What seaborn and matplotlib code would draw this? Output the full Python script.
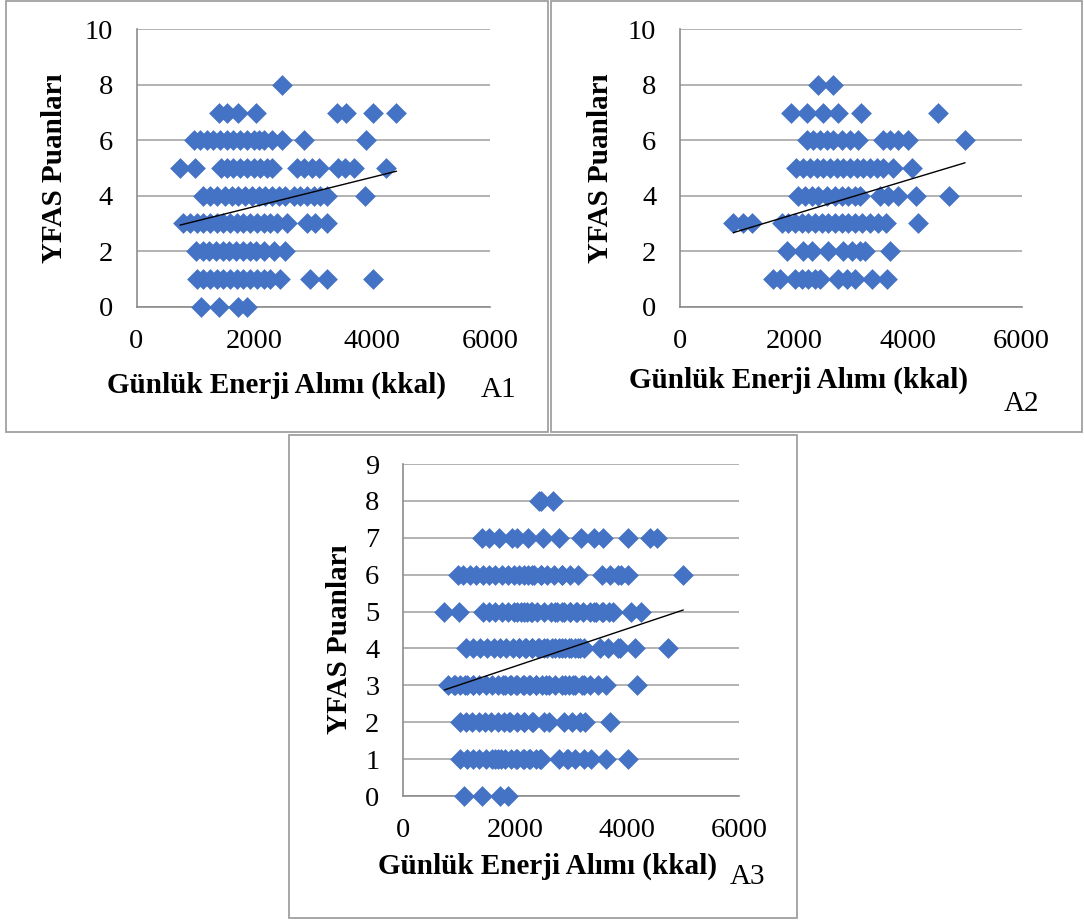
import numpy as np
import pandas as pd
import matplotlib
matplotlib.use("Agg")
import matplotlib.pyplot as plt
from matplotlib.patches import Rectangle
import seaborn as sns

# ---------------- data ----------------
# A1: daily energy intake (kcal) per YFAS score
a1_points = {
    8: [2470],
    7: [1408, 1534, 1715, 2032, 3404, 3563, 4010, 4413],
    6: [983, 1080, 1193, 1306, 1420, 1533, 1646, 1760, 1873, 1986, 2071, 2156,
        2298, 2468, 2848, 3890],
    5: [740, 995, 1431, 1533, 1646, 1760, 1873, 1986, 2100, 2213, 2298, 2723,
        2836, 2978, 3091, 3414, 3545, 3686, 4242],
    4: [1125, 1250, 1374, 1505, 1618, 1731, 1845, 1958, 2071, 2185, 2298, 2411,
        2525, 2666, 2780, 2893, 3006, 3120, 3233, 3873],
    3: [796, 910, 1023, 1136, 1250, 1363, 1476, 1590, 1703, 1816, 1930, 2043,
        2156, 2270, 2383, 2553, 2893, 3035, 3233],
    2: [1012, 1125, 1238, 1352, 1465, 1578, 1692, 1805, 1918, 2032, 2156, 2326,
        2525],
    1: [1023, 1136, 1250, 1363, 1476, 1590, 1703, 1816, 1930, 2043, 2156, 2270,
        2440, 2950, 3233, 4009],
    0: [1091, 1408, 1731, 1873],
}
# A2
a2_points = {
    8: [2429, 2681],
    7: [1943, 2224, 2505, 2780, 3173, 4536],
    6: [2224, 2341, 2458, 2575, 2693, 2839, 2985, 3132, 3559, 3688, 3834, 4010,
        5005],
    5: [2037, 2166, 2283, 2400, 2517, 2634, 2751, 2868, 2985, 3102, 3219, 3336,
        3453, 3570, 3746, 4068],
    4: [2078, 2195, 2312, 2429, 2575, 2722, 2839, 2956, 3073, 3161, 3512, 3658,
        3834, 4144, 4730],
    3: [937, 1112, 1258, 1785, 1902, 2019, 2137, 2254, 2371, 2488, 2605, 2722,
        2839, 2956, 3073, 3190, 3336, 3483, 3617, 4173],
    2: [1885, 2154, 2312, 2605, 2868, 3014, 3161, 3249, 3688],
    1: [1639, 1756, 2019, 2137, 2254, 2371, 2458, 2780, 2927, 3073, 3366, 3629],
}

# linear trend lines as shown in the reference (intercept, slope)
trend_a1 = (2.55, 0.000529)
trend_a2 = (2.09, 0.000619)
trend_a3 = (2.50, 0.000508)

x_ticks = [0, 2000, 4000, 6000]
y_ticks_a12 = [0, 2, 4, 6, 8, 10]
y_ticks_a3 = [0, 1, 2, 3, 4, 5, 6, 7, 8, 9]

x_label = "Günlük Enerji Alımı (kkal)"
y_label = "YFAS Puanları"
panel_tags = ["A1", "A2", "A3"]


def to_frame(points):
    rows = [(k, s) for s, ks in points.items() for k in ks]
    return pd.DataFrame(rows, columns=["kcal", "score"])


df1 = to_frame(a1_points)
df2 = to_frame(a2_points)
df3 = pd.concat([df1, df2], ignore_index=True)

# ---------------- styling ----------------
sns.set_theme(style="white")
plt.rcParams["font.family"] = ["Liberation Serif", "DejaVu Serif"]
plt.rcParams["text.color"] = "black"
plt.rcParams["axes.labelcolor"] = "black"

W, H = 1084, 922
fig = plt.figure(figsize=(W / 100, H / 100), dpi=100)

BLUE = "#4472C4"
GRID = "#A6A6A6"
AXIS = "#8C8C8C"
BOX = "#A0A0A0"
TICK_FS = 20.5
LABEL_FS = 21
TAG_FS = 21


def px_rect(l, t, r, b):
    return [l / W, 1 - b / H, (r - l) / W, (b - t) / H]


def draw_panel(rect, df, trend, yticks, ymax, xlab_pos, ylab_pos):
    ax = fig.add_axes(px_rect(*rect))
    sns.scatterplot(data=df, x="kcal", y="score", marker="D", s=112,
                    color=BLUE, linewidth=0, ax=ax, zorder=3, clip_on=False)
    b0, b1 = trend
    xs = np.array([df["kcal"].min(), df["kcal"].max()])
    ax.plot(xs, b0 + b1 * xs, color="black", lw=1.0, zorder=4)
    ax.set_xlim(0, 6000)
    ax.set_ylim(0, ymax)
    ax.set_xticks(x_ticks)
    ax.set_yticks(yticks)
    ax.yaxis.grid(True, color=GRID, lw=1.2)
    ax.xaxis.grid(False)
    ax.set_axisbelow(True)
    for s in ["top", "right"]:
        ax.spines[s].set_visible(False)
    for s in ["left", "bottom"]:
        ax.spines[s].set_color(AXIS)
        ax.spines[s].set_linewidth(1.2)
    ax.tick_params(axis="both", length=0, labelsize=TICK_FS, colors="black")
    ax.tick_params(axis="y", pad=17)
    ax.tick_params(axis="x", pad=16)
    ax.set_xlabel(x_label, fontsize=LABEL_FS, fontweight="bold", color="black")
    ax.set_ylabel(y_label, fontsize=LABEL_FS, fontweight="bold", color="black")
    ax.xaxis.set_label_coords(*xlab_pos)
    ax.xaxis.label.set_va("center")
    ax.yaxis.set_label_coords(*ylab_pos)
    ax.yaxis.label.set_va("center")
    return ax


draw_panel((136.5, 29.3, 490, 306.7), df1, trend_a1, y_ticks_a12, 10,
           (0.397, -0.282), (-0.2306, 0.5))
draw_panel((680, 29.3, 1021.7, 306.7), df2, trend_a2, y_ticks_a12, 10,
           (0.348, -0.264), (-0.234, 0.5))
draw_panel((403, 464, 739, 796), df3, trend_a3, y_ticks_a3, 9,
           (0.4315, -0.211), (-0.19, 0.473))

# panel tags
for tag, (x, y) in zip(panel_tags, [(499, 390), (1021, 404), (747, 877)]):
    fig.text(x / W, 1 - y / H, tag, fontsize=TAG_FS, ha="center", va="center",
             color="black")

# panel frames
for l, t, r, b in [(6, 1, 548, 432), (551, 1, 1082, 432), (289, 435, 797, 918)]:
    fig.patches.append(Rectangle((l / W, 1 - b / H), (r - l) / W, (b - t) / H,
                                 transform=fig.transFigure, fill=False,
                                 edgecolor=BOX, lw=1.3))

fig.savefig("out.png", dpi=100)
